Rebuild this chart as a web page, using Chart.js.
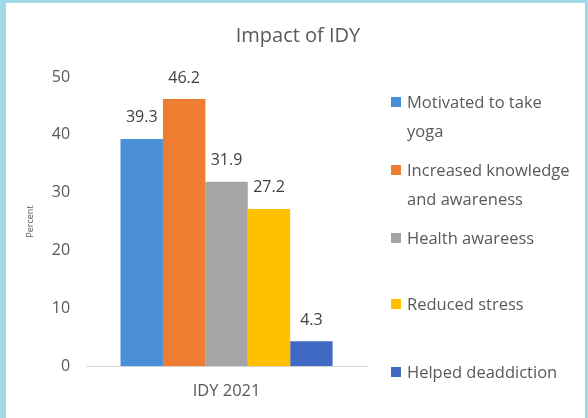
<!DOCTYPE html>
<html>
<head>
<meta charset="utf-8">
<script src="https://cdn.jsdelivr.net/npm/chart.js@4.4.1/dist/chart.umd.min.js"></script>
<style>
  html, body { margin: 0; padding: 0; }
  body { width: 588px; height: 418px; background: #a3d8e8; position: relative; overflow: hidden; font-family: "Open Sans", sans-serif; }
  #panel { position: absolute; left: 6px; top: 3px; right: 3px; bottom: 0; background: #ffffff; }
  #wrap { position: absolute; left: 0; top: 0; width: 588px; height: 418px; }
  #title { position: absolute; left: 198px; width: 200px; top: 21px; text-align: center; font-size: 20px; line-height: 28px; color: #595959; }
  #legend { position: absolute; left: 391px; top: 87px; width: 197px; color: #595959; font-size: 16.5px; }
  .item { position: absolute; left: 0; display: flex; align-items: flex-start; line-height: 29px; white-space: nowrap; }
  .swatch { width: 10px; height: 10px; margin-top: 10px; margin-right: 6px; flex: none; }
</style>
</head>
<body>
<div id="panel"></div>
<div id="wrap"><canvas id="chart" width="588" height="418"></canvas></div>
<div id="title">Impact of IDY</div>
<div id="legend"></div>
<script>
// Survey outcomes after International Day of Yoga 2021 (percent of respondents)
const categories = ["IDY 2021"];
const seriesNames = [
  "Motivated to take yoga",
  "Increased knowledge and awareness",
  "Health awareess",
  "Reduced stress",
  "Helped deaddiction"
];
const seriesValues = [39.3, 46.2, 31.9, 27.2, 4.3];
const seriesColors = ["#4a8fd8", "#ed7d31", "#a5a5a5", "#ffc000", "#4069c4"];
const yTicks = [0, 10, 20, 30, 40, 50];

// Legend lines (wrapped as they appear beside the plot) and vertical offsets
const legendLines = [
  ["Motivated to take", "yoga"],
  ["Increased knowledge", "and awareness"],
  ["Health awareess"],
  ["Reduced stress"],
  ["Helped deaddiction"]
];
const legendTops = [0, 68, 136, 202, 270];

const datasets = seriesNames.map((name, i) => ({
  label: name,
  data: [seriesValues[i]],
  backgroundColor: seriesColors[i],
  borderWidth: 0,
  categoryPercentage: 0.755,
  barPercentage: 1.0
}));

// Value labels above each bar
const valueLabels = {
  id: "valueLabels",
  afterDatasetsDraw(chart) {
    const ctx = chart.ctx;
    ctx.save();
    ctx.font = "16px 'Open Sans', sans-serif";
    ctx.fillStyle = "#404040";
    ctx.textAlign = "center";
    ctx.textBaseline = "middle";
    chart.data.datasets.forEach((ds, i) => {
      const bar = chart.getDatasetMeta(i).data[0];
      ctx.fillText(ds.data[0].toFixed(1), bar.x, bar.y - 21);
    });
    ctx.restore();
  }
};

new Chart(document.getElementById("chart"), {
  type: "bar",
  data: { labels: categories, datasets },
  plugins: [valueLabels],
  options: {
    responsive: false,
    animation: false,
    layout: { padding: { left: 25, right: 221, top: 77, bottom: 2 } },
    plugins: {
      legend: { display: false },
      title: { display: false },
      tooltip: { enabled: false }
    },
    scales: {
      x: {
        grid: { display: false, drawTicks: false },
        border: { display: true, color: "#d9d9d9", width: 1 },
        ticks: { color: "#595959", font: { size: 16.5, family: "'Open Sans', sans-serif" }, padding: 15 }
      },
      y: {
        min: 0,
        max: 50,
        afterBuildTicks(axis) { axis.ticks = yTicks.map(v => ({ value: v })); },
        grid: { display: false, drawTicks: false },
        border: { display: false },
        ticks: { color: "#595959", font: { size: 16, family: "'Open Sans', sans-serif" }, padding: 16 },
        title: { display: true, text: "Percent", color: "#595959", font: { size: 9, family: "'Open Sans', sans-serif" }, padding: 0 }
      }
    }
  }
});

// HTML legend built from the series arrays
const legend = document.getElementById("legend");
seriesNames.forEach((name, i) => {
  const item = document.createElement("div");
  item.className = "item";
  item.style.top = legendTops[i] + "px";
  const sw = document.createElement("span");
  sw.className = "swatch";
  sw.style.background = seriesColors[i];
  const txt = document.createElement("span");
  txt.innerHTML = legendLines[i].join("<br>");
  item.appendChild(sw);
  item.appendChild(txt);
  legend.appendChild(item);
});
</script>
</body>
</html>
